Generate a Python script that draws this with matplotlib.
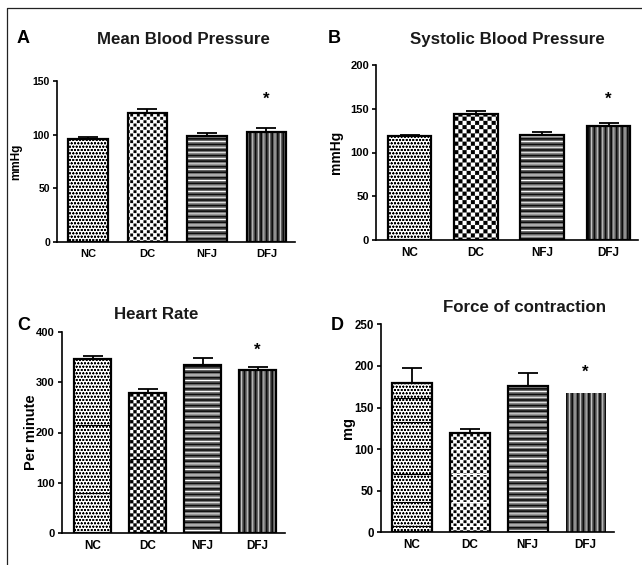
import numpy as np
import matplotlib
matplotlib.use("Agg")
import matplotlib.pyplot as plt
import matplotlib.hatch as mhatch
from matplotlib.path import Path
from matplotlib.lines import Line2D

# ---------------- data ----------------
groups = ["NC", "DC", "NFJ", "DFJ"]

mbp_mean = [95.6, 119.7, 99.0, 102.7]
mbp_err = [2.4, 3.7, 2.7, 3.7]
mbp_ticks = [0, 50, 100, 150]

sbp_mean = [118.9, 144.0, 120.4, 130.3]
sbp_err = [1.5, 3.0, 3.4, 3.0]
sbp_ticks = [0, 50, 100, 150, 200]

hr_mean = [345.8, 277.7, 333.9, 324.0]
hr_err = [5.9, 7.9, 13.1, 6.6]
hr_ticks = [0, 100, 200, 300, 400]

foc_mean = [179.9, 119.0, 175.9, 167.0]
foc_err = [17.2, 5.2, 16.0, 0.0]
foc_ticks = [0, 50, 100, 150, 200, 250]

star_y = [137, 166, 373.6, 198.3]   # "*" marks above DFJ

# scan seams visible inside some bars (data units)
hr_nc_seams = [80, 215]
hr_dc_seams = [148]
foc_nc_seams = [7, 37, 70, 100, 132, 162]
foc_dc_seams = [7, 37, 70, 100]

# ---------------- custom hatch patterns ----------------
class _SquareGrid(mhatch.HatchPatternBase):
    char = "*"
    frac = 1.0

    def __init__(self, hatch, density):
        self.n = hatch.count(self.char) * density
        if self.n % 2:
            self.n += 1
        self.num_vertices = (self.n * self.n // 2) * 5 if self.n else 0

    def set_vertices_and_codes(self, vertices, codes):
        n = self.n
        s = 1.0 / n
        m = s * (1 - self.frac) / 2
        k = 0
        for i in range(n):
            for j in range(n):
                if (i + j) % 2 == 0:
                    x0, y0 = i * s + m, j * s + m
                    x1, y1 = (i + 1) * s - m, (j + 1) * s - m
                    vertices[k:k + 5] = [[x0, y0], [x1, y0], [x1, y1], [x0, y1], [x0, y0]]
                    codes[k:k + 5] = [Path.MOVETO, Path.LINETO, Path.LINETO,
                                      Path.LINETO, Path.CLOSEPOLY]
                    k += 5


class CheckerHatch(_SquareGrid):
    char = "*"
    frac = 0.92


class SparseSquareHatch(_SquareGrid):
    char = "O"
    frac = 0.78


_types = mhatch._hatch_types
for idx, t in enumerate(list(_types)):
    if t is mhatch.Stars:
        _types[idx] = CheckerHatch
    elif t is mhatch.LargeCircles:
        _types[idx] = SparseSquareHatch

# ---------------- figure ----------------
plt.rcParams["font.family"] = ["Liberation Sans", "DejaVu Sans"]
plt.rcParams["font.weight"] = "bold"

W, H = 642, 565
fig = plt.figure(figsize=(W / 100, H / 100), dpi=100)
fig.patch.set_facecolor("white")


def set_hlw(patch, lw):
    if hasattr(patch, "set_hatch_linewidth"):
        patch.set_hatch_linewidth(lw)
    orig = patch.draw

    def draw(renderer, _orig=orig, _lw=lw):
        with plt.rc_context({"hatch.linewidth": _lw}):
            _orig(renderer)
    patch.draw = draw


def styled_bar(ax, i, val, width, layers, outline=True):
    for face, hcol, hatch, hlw in layers:
        b = ax.bar([i], [val], width, color=face, edgecolor=hcol, hatch=hatch,
                   linewidth=0, zorder=2)
        for p in b:
            set_hlw(p, hlw)
    if outline:
        ax.bar([i], [val], width, facecolor="none", edgecolor="black",
               linewidth=1.6, zorder=3)


NFJ_LAYERS = [("#0d0d0d", "#7a7a7a", "------", 0.8), ("none", "white", "---", 0.9)]
DFJ_LAYERS = [("#0d0d0d", "#6e6e6e", "||||||", 0.7), ("none", "#c4c4c4", "|||", 1.0)]
NC_FINE = [("white", "black", "ooooo", 0.5)]
NC_FINER = [("white", "black", "ooooo", 0.45)]

panels = [
    dict(letter="A", title="Mean Blood Pressure", ylabel="mmHg",
         mean=mbp_mean, err=mbp_err, ticks=mbp_ticks, star=star_y[0],
         box=(57, 295, 80.7, 242.3), xlim=(-0.52, 3.48), width=0.67,
         letter_xy=(17, 43.3), title_xy=(183.5, 44), ylab_xy=(16, 161.5), ylab_fs=8.5,
         tick_fs=7.5, xtick_fs=8,
         styles=[NC_FINE, [("white", "black", "OOOOO", 0.2)], NFJ_LAYERS, DFJ_LAYERS],
         outline=[True, True, True, True], seams={}),
    dict(letter="B", title="Systolic Blood Pressure", ylabel="mmHg",
         mean=sbp_mean, err=sbp_err, ticks=sbp_ticks, star=star_y[1],
         box=(376, 637.7, 65, 240), xlim=(-0.505, 3.44), width=0.66,
         letter_xy=(328, 43), title_xy=(507.7, 44), ylab_xy=(336, 152.5), ylab_fs=10,
         tick_fs=8, xtick_fs=8.5,
         styles=[NC_FINE, [("white", "black", "****", 0.2)], NFJ_LAYERS, DFJ_LAYERS],
         outline=[True, True, True, True], seams={}),
    dict(letter="C", title="Heart Rate", ylabel="Per minute",
         mean=hr_mean, err=hr_err, ticks=hr_ticks, star=star_y[2],
         box=(61.7, 285, 331.7, 533.3), xlim=(-0.56, 3.5), width=0.69,
         letter_xy=(17, 330), title_xy=(156, 319), ylab_xy=(30.7, 432.5), ylab_fs=10.5,
         tick_fs=8, xtick_fs=8.5,
         styles=[NC_FINER, [("white", "black", "*****", 0.2)], NFJ_LAYERS, DFJ_LAYERS],
         outline=[True, True, True, True],
         seams={0: (hr_nc_seams, "black"), 1: (hr_dc_seams, "black")}),
    dict(letter="D", title="Force of contraction", ylabel="mg",
         mean=foc_mean, err=foc_err, ticks=foc_ticks, star=star_y[3],
         box=(381, 614, 324.3, 532.3), xlim=(-0.53, 3.49), width=0.69,
         letter_xy=(331, 330), title_xy=(524.5, 312.3), ylab_xy=(348.3, 428.3), ylab_fs=10.5,
         tick_fs=8.3, xtick_fs=8.5,
         styles=[NC_FINER, [("white", "black", "OOOOO", 0.2)], NFJ_LAYERS, DFJ_LAYERS],
         outline=[True, True, True, False],
         seams={0: (foc_nc_seams, "black"), 1: (foc_dc_seams, "white")}),
]

for P in panels:
    l, r, t, b = P["box"]
    ax = fig.add_axes([l / W, 1 - b / H, (r - l) / W, (b - t) / H])
    x = np.arange(len(groups))
    w = P["width"]
    for i in range(len(groups)):
        styled_bar(ax, i, P["mean"][i], w, P["styles"][i], outline=P["outline"][i])
    for gi, (vals, col) in P["seams"].items():
        ax.hlines(vals, gi - w / 2 + 0.02, gi + w / 2 - 0.02, colors=col,
                  linewidth=0.8, zorder=2.5)
    err = np.asarray(P["err"])
    mean = np.asarray(P["mean"])
    keep = err > 0
    ax.errorbar(x[keep], mean[keep], yerr=[np.zeros(keep.sum()), err[keep]],
                fmt="none", ecolor="black", elinewidth=1.3, capsize=7.2,
                capthick=1.3, zorder=1.5)
    ax.annotate("*", xy=(3, P["star"]), xytext=(0, -6.8), textcoords="offset points",
                ha="center", va="baseline", fontsize=12, fontweight="bold")
    ax.set_xlim(*P["xlim"])
    ax.set_ylim(P["ticks"][0], P["ticks"][-1])
    ax.set_yticks(P["ticks"])
    ax.set_xticks(x)
    ax.set_xticklabels(groups)
    for s in ["top", "right"]:
        ax.spines[s].set_visible(False)
    for s in ["left", "bottom"]:
        ax.spines[s].set_linewidth(1.2)
    ax.tick_params(axis="y", length=3, width=1.2, pad=2, labelsize=P["tick_fs"])
    ax.tick_params(axis="x", length=0, pad=5, labelsize=P["xtick_fs"])
    ax.set_facecolor("none")

    fig.text(P["letter_xy"][0] / W, 1 - P["letter_xy"][1] / H, P["letter"],
             fontsize=13, fontweight="bold", ha="left", va="baseline")
    fig.text(P["title_xy"][0] / W, 1 - P["title_xy"][1] / H, P["title"],
             fontsize=12.2, fontweight="bold", ha="center", va="baseline", color="#1a1a1a")
    fig.text(P["ylab_xy"][0] / W, 1 - P["ylab_xy"][1] / H, P["ylabel"],
             fontsize=P["ylab_fs"], fontweight="bold", rotation=90,
             ha="center", va="center")

fig.add_artist(Line2D([7 / W, 7 / W, 1], [0, 1 - 8 / H, 1 - 8 / H],
                      transform=fig.transFigure, color="#222222", linewidth=0.9))

fig.savefig("out.png", dpi=100)
